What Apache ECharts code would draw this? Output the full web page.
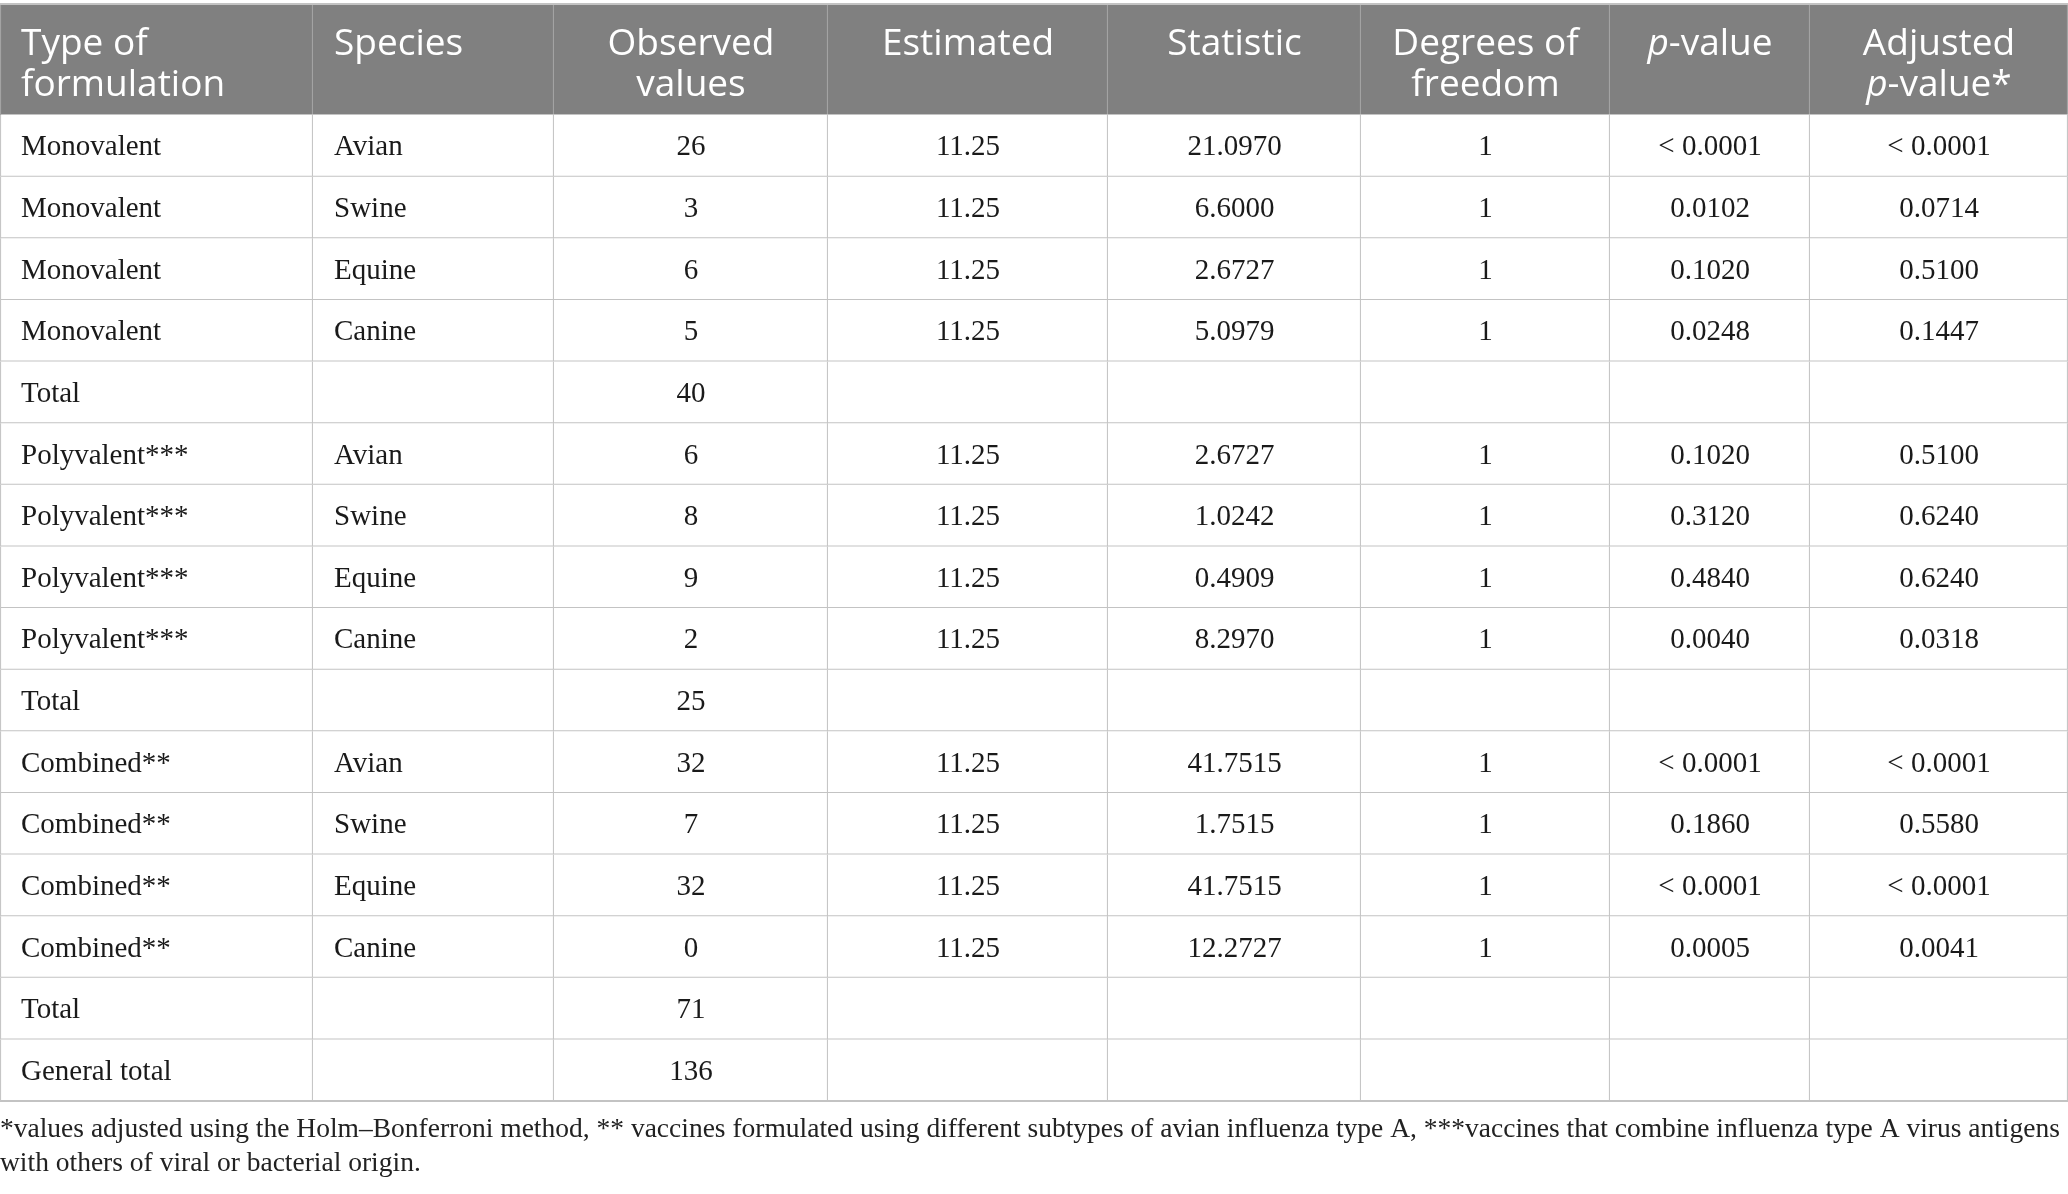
<!DOCTYPE html>
<html>
<head>
<meta charset="utf-8">
<script src="https://cdn.jsdelivr.net/npm/echarts@6/dist/echarts.min.js"></script>
<style>
  html, body { margin: 0; padding: 0; background: #fff; }
  #main { width: 2068px; height: 1194px; }
</style>
</head>
<body>
<div id="main"></div>
<script>
// table content
const headers = ['Type of\nformulation', 'Species', 'Observed\nvalues', 'Estimated', 'Statistic',
  'Degrees of\nfreedom', '{i|p}-value', 'Adjusted\n{i|p}-value*'];
const formulations = ['Monovalent', 'Polyvalent***', 'Combined**'];
const species = ['Avian', 'Swine', 'Equine', 'Canine'];
const observed = [[26, 3, 6, 5], [6, 8, 9, 2], [32, 7, 32, 0]];
const groupTotals = [40, 25, 71];
const generalTotal = 136;
const estimated = [[11.25, 11.25, 11.25, 11.25], [11.25, 11.25, 11.25, 11.25], [11.25, 11.25, 11.25, 11.25]];
const statistic = [[21.0970, 6.6000, 2.6727, 5.0979], [2.6727, 1.0242, 0.4909, 8.2970], [41.7515, 1.7515, 41.7515, 12.2727]];
const degrees = [[1, 1, 1, 1], [1, 1, 1, 1], [1, 1, 1, 1]];
const pValues = [['< 0.0001', '0.0102', '0.1020', '0.0248'], ['0.1020', '0.3120', '0.4840', '0.0040'], ['< 0.0001', '0.1860', '< 0.0001', '0.0005']];
const adjPValues = [['< 0.0001', '0.0714', '0.5100', '0.1447'], ['0.5100', '0.6240', '0.6240', '0.0318'], ['< 0.0001', '0.5580', '< 0.0001', '0.0041']];
const footnote = [
  '*values adjusted using the Holm\u2013Bonferroni method, ** vaccines formulated using different subtypes of avian influenza type A, ***vaccines that combine influenza type A virus antigens',
  'with others of viral or bacterial origin.'
];

// layout (px units on the hidden axes)
const colWidths = [313, 241, 274, 280, 253, 249, 200, 258];
const headerH = 111;
const rowH = 61.625;

const colEdges = [0];
colWidths.forEach(w => colEdges.push(colEdges[colEdges.length - 1] + w));

// build the body rows from the arrays
const rows = [];
formulations.forEach((f, g) => {
  species.forEach((s, i) => {
    rows.push([f, s, String(observed[g][i]), estimated[g][i].toFixed(2), statistic[g][i].toFixed(4),
      String(degrees[g][i]), pValues[g][i], adjPValues[g][i]]);
  });
  rows.push(['Total', '', String(groupTotals[g]), '', '', '', '', '']);
});
rows.push(['General total', '', String(generalTotal), '', '', '', '', '']);

const rowEdges = [0, headerH];
rows.forEach(() => rowEdges.push(rowEdges[rowEdges.length - 1] + rowH));
const totalH = rowEdges[rowEdges.length - 1];

const cells = [];
headers.forEach((h, c) => cells.push([c, 0]));
rows.forEach((r, ri) => r.forEach((t, c) => cells.push([c, ri + 1])));

function cellText(c, r) {
  return r === 0 ? headers[c] : rows[r - 1][c];
}

function renderCell(params, api) {
  const c = api.value(0);
  const r = api.value(1);
  const p0 = api.coord([colEdges[c], rowEdges[r]]);
  const p1 = api.coord([colEdges[c + 1], rowEdges[r + 1]]);
  const x = p0[0], y = p0[1], w = p1[0] - p0[0], h = p1[1] - p0[1];
  const isHead = r === 0;
  const leftAlign = c < 2;
  const children = [{
    type: 'rect',
    shape: { x: x, y: y, width: w, height: h },
    style: { fill: isHead ? '#808080' : '#ffffff' }
  }, {
    type: 'line',
    shape: { x1: x + w - 0.5, y1: y, x2: x + w - 0.5, y2: y + h },
    style: { stroke: isHead ? '#a3a3a3' : '#c6c6c6', lineWidth: 1.2 }
  }, {
    type: 'line',
    shape: { x1: x, y1: y + h, x2: x + w, y2: y + h },
    style: { stroke: '#c3c3c3', lineWidth: 2 }
  }];
  if (c === 0) {
    children.push({
      type: 'line',
      shape: { x1: x + 0.5, y1: y, x2: x + 0.5, y2: y + h },
      style: { stroke: isHead ? '#a3a3a3' : '#c6c6c6', lineWidth: 1.2 }
    });
  }
  if (isHead) {
    children.push({
      type: 'line',
      shape: { x1: x, y1: y, x2: x + w, y2: y },
      style: { stroke: '#c3c3c3', lineWidth: 2 }
    });
  }
  const txt = cellText(c, r);
  if (txt) {
    children.push({
      type: 'text',
      style: isHead ? {
        text: txt,
        x: leftAlign ? x + 21 : x + w / 2,
        y: y + 20,
        align: leftAlign ? 'left' : 'center',
        verticalAlign: 'top',
        fontFamily: 'Open Sans',
        fontSize: 37,
        lineHeight: 41,
        fill: '#ffffff',
        rich: {
          i: { fontFamily: 'Open Sans', fontSize: 37, fontStyle: 'italic', fill: '#ffffff', lineHeight: 41 }
        }
      } : {
        text: txt,
        x: leftAlign ? x + 21 : x + w / 2,
        y: y + h / 2 + 2,
        align: leftAlign ? 'left' : 'center',
        verticalAlign: 'middle',
        fontFamily: 'Liberation Serif',
        fontSize: 29,
        fill: '#1a1a1a'
      }
    });
  }
  return { type: 'group', children: children };
}

const chart = echarts.init(document.getElementById('main'));
chart.setOption({
  animation: false,
  backgroundColor: '#ffffff',
  grid: { left: 0, top: 4, width: 2068, height: totalH },
  xAxis: { type: 'value', min: 0, max: colEdges[colEdges.length - 1], show: false },
  yAxis: { type: 'value', min: 0, max: totalH, inverse: true, show: false },
  series: [{
    type: 'custom',
    renderItem: renderCell,
    data: cells,
    encode: { x: 0, y: 1 },
    silent: true,
    clip: false
  }],
  graphic: footnote.map((line, i) => ({
    type: 'text',
    left: 0,
    top: 1116 + i * 34,
    style: {
      text: line,
      fontFamily: 'Liberation Serif',
      fontSize: 27.5,
      fill: '#222222'
    }
  }))
});
</script>
</body>
</html>
